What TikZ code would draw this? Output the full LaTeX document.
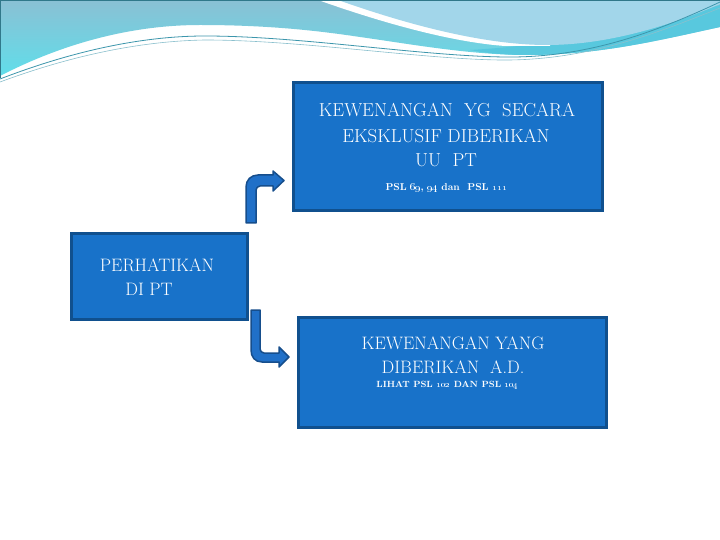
\documentclass[tikz,border=0pt]{standalone}
\definecolor{boxfill}{RGB}{24,114,201}
\definecolor{boxline}{RGB}{16,80,142}
\definecolor{arrfill}{RGB}{32,112,200}
\definecolor{arrline}{RGB}{22,78,140}
\definecolor{waveA}{RGB}{138,192,212}
\definecolor{waveAb}{RGB}{96,222,234}
\definecolor{waveB}{RGB}{162,214,234}
\definecolor{waveC}{RGB}{88,200,222}
\definecolor{waveline}{RGB}{60,150,172}
\begin{document}
\begin{tikzpicture}[x=1pt,y=-1pt,
  box/.style={draw=boxline, line width=3pt, fill=boxfill, rectangle, inner sep=0pt},
  txt/.style={text=white, inner sep=0pt, anchor=base},
  big/.style={font=\fontsize{18.8}{22}\selectfont},
  mid/.style={font=\fontsize{18}{22}\selectfont},
  smalltop/.style={font=\fontsize{10}{12}\selectfont\bfseries},
  smallbot/.style={font=\fontsize{9}{11}\selectfont\bfseries},
  blockarrow/.style={fill=arrfill, draw=arrline, line width=1.5pt, line join=round}
]
\useasboundingbox (0,0) rectangle (720,540);
\fill[white] (0,0) rectangle (720,540);
% top wave decoration
\shade[top color=waveA, bottom color=waveAb] (0,0) -- (720,0) -- (720,27)
  .. controls (660,40) and (600,55) .. (527,55)
  .. controls (470,55) and (410,44) .. (360,37)
  .. controls (320,31) and (270,25) .. (200,25)
  .. controls (120,25) and (50,50) .. (0,76) -- cycle;
\fill[waveC] (470,50) .. controls (560,45) and (650,25) .. (720,5) -- (720,27)
  .. controls (660,40) and (600,55) .. (527,55)
  .. controls (505,55) and (485,53) .. (470,50) -- cycle;
\fill[white] (318,0) .. controls (380,22) and (450,42) .. (505,46) -- (550,46) -- (550,30) -- (340,0) -- cycle;
\fill[waveB] (338,0) -- (720,0) -- (720,4)
  .. controls (660,30) and (600,45) .. (547,45)
  .. controls (480,45) and (400,22) .. (338,0) -- cycle;
\draw[waveline, line width=0.8pt] (0,79) .. controls (70,52) and (140,36) .. (205,36)
  .. controls (300,36) and (420,56) .. (505,57) .. controls (590,58) and (660,30) .. (720,2);
\draw[waveline!60, line width=0.6pt] (0,82) .. controls (70,56) and (140,41) .. (205,40)
  .. controls (300,40) and (420,59) .. (500,60) .. controls (585,61) and (655,34) .. (720,8);
\draw[waveline!80!black, line width=1pt] (0,0.5) -- (720,0.5);
\draw[waveline!80!black, line width=0.8pt] (0.4,0) -- (0.4,78);
% boxes
\node[box, minimum width=309pt, minimum height=128pt] (top) at (447.5,147) {};
\node[box, minimum width=176pt, minimum height=86pt] (left) at (159,276) {};
\node[box, minimum width=308pt, minimum height=110pt] (bot) at (452,372) {};
% texts
\node[txt, big] (t1) at (447,117) {KEWENANGAN\ \ YG\ \ SECARA};
\node[txt, big] (t2) at (446,143) {EKSKLUSIF DIBERIKAN};
\node[txt, big] (t3) at (446,167) {UU\ \ PT};
\node[txt, smalltop] (t4) at (446.5,191) {PSL \oldstylenums{69}, \oldstylenums{94} dan\ \ PSL \oldstylenums{111}};
\node[txt, mid] (l1) at (157,271) {PERHATIKAN};
\node[txt, mid] (l2) at (149,295) {DI PT};
\node[txt, mid] (b1) at (453,349) {KEWENANGAN YANG};
\node[txt, mid] (b2) at (453,373) {DIBERIKAN\ \ A.D.};
\node[txt, smallbot] (b3) at (447.5,387) {LIHAT PSL \oldstylenums{102} DAN PSL \oldstylenums{104}};
% bent arrows
\path[blockarrow] (246,223) -- (246,187) .. controls (246,180) and (251,175) .. (258,175)
  -- (273,175) -- (273,171) -- (284,180.5) -- (273,191) -- (273,186) -- (260,186)
  .. controls (258,186) and (256,188) .. (256,190) -- (256,223) -- cycle;
\path[blockarrow] (251,310) -- (251,350) .. controls (251,357) and (255,362) .. (262,362)
  -- (279,362) -- (279,367) -- (289,357) -- (279,347) -- (279,353) -- (264,353)
  .. controls (262,353) and (260,351) .. (260,349) -- (260,310) -- cycle;
\end{tikzpicture}
\end{document}
